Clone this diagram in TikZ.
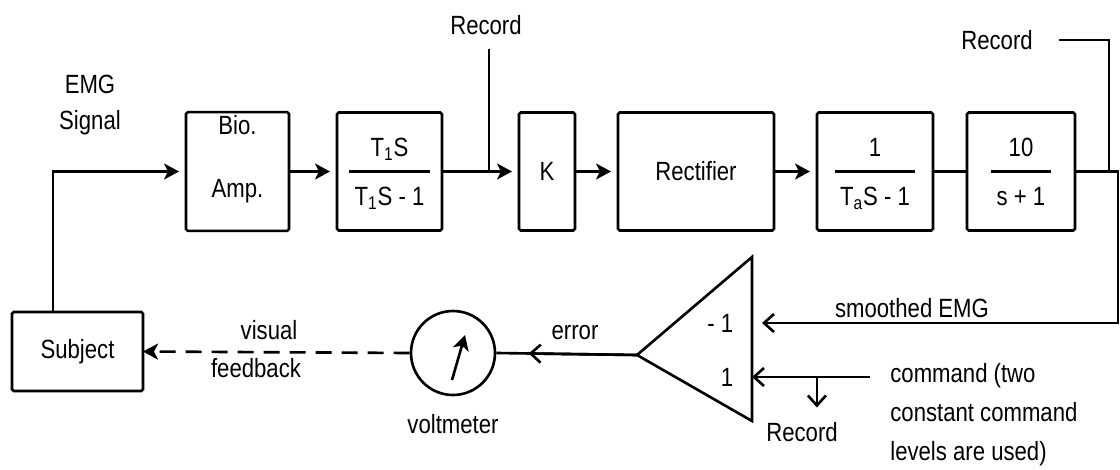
\documentclass[tikz,border=0pt]{standalone}
\usepackage{fontspec}
\setmainfont{Liberation Sans}[FakeStretch=0.84]
\usepackage{tikz}
\usetikzlibrary{positioning,arrows.meta,calc}
\renewcommand{\arraystretch}{1.5}
\setlength{\arrayrulewidth}{1.2pt}
\setlength{\tabcolsep}{3pt}

\begin{document}
\begin{tikzpicture}[
  font=\fontsize{15}{18}\selectfont,
  blk/.style={draw,line width=1.5pt,outer sep=0pt,rounded corners=1pt,align=center,minimum height=2.36cm,inner sep=2pt},
  lbl/.style={inner sep=2pt,align=center},
  wire/.style={line width=1.5pt},
  arr/.style={wire,-{Stealth[length=3mm,width=3.2mm,inset=0.8mm]}},
  flow/.style={arr,shorten >=0.14cm},
  barb/.style={wire,-{Straight Barb[length=2mm,width=3.6mm]}}]
\useasboundingbox (0,0) rectangle (22.4,-9.38);
\node[blk,minimum width=2.06cm,text depth=0.6cm] (bio) at (4.75,-3.43) {Bio.\\[0.62cm]Amp.};
\node[blk,minimum width=2.1cm,right=0.96cm of bio] (hp) {\begin{tabular}{c}T\textsubscript{1}S\\\hline T\textsubscript{1}S - 1\end{tabular}};
\node[blk,minimum width=1.12cm,right=1.54cm of hp] (gain) {K};
\node[blk,minimum width=3.12cm,right=0.86cm of gain] (rect) {Rectifier};
\node[blk,minimum width=2.32cm,right=0.86cm of rect] (lag) {\begin{tabular}{c}1\\\hline T\textsubscript{a}S - 1\end{tabular}};
\node[blk,minimum width=2.16cm,right=0.68cm of lag] (filt) {\begin{tabular}{c}10\\\hline s + 1\end{tabular}};
\node[blk,minimum width=2.62cm,minimum height=1.58cm] (subj) at (1.55,-7.03) {Subject};
\node[draw,circle,wire,minimum size=1.68cm] (vm) at (9.06,-7.06) {};
\node[lbl,below=0.28cm of vm] (vmlbl) {voltmeter};
\node[lbl,font=\fontsize{15}{21}\selectfont] (emg) at (1.8,-2.1) {EMG\\Signal};
\node[lbl] (rec1) at (9.72,-0.5) {Record};
\node[lbl] (rec2) at (19.94,-0.8) {Record};
\node[lbl] (rec3) at (16.04,-8.64) {Record};
\node[lbl] (errlbl) at (11.5,-6.66) {error};
\node[lbl] (vis) at (5.38,-6.6) {visual};
\node[lbl] (fbk) at (5.12,-7.36) {feedback};
\node[lbl] (smlbl) at (18.24,-6.16) {smoothed EMG};
\node[lbl,anchor=north west,align=left,font=\fontsize{15}{22}\selectfont] (cmd) at (17.73,-7.2) {command (two\\constant command\\levels are used)};
\draw[wire,line join=miter] (12.74,-7.10) coordinate (apex) -- (15.04,-5.14) -- (15.04,-8.42) -- cycle;
\coordinate (minus) at (15.04,-6.46);
\coordinate (plus) at (15.04,-7.54);
\coordinate (cmdin) at (17.4,-7.54);
\node[lbl,left=0.3cm of minus] (mlbl) {- 1};
\node[lbl,left=0.3cm of plus] (plbl) {1};
\coordinate (tap1) at ([xshift=0.94cm]hp.east);
\coordinate (tap2) at ([xshift=0.68cm]filt.east);
\coordinate (tap3) at ($(cmdin)!0.45!(plus)$);
\draw[flow] ([xshift=-0.49cm]subj.north) |- (bio.west);
\draw[flow] (bio) -- (hp); \draw[flow] (hp) -- (gain); \draw[flow] (gain) -- (rect); \draw[flow] (rect) -- (lag);
\draw[wire] (lag) -- (filt);
\draw[wire,shorten <=0.2cm] (rec1.south -| tap1) -- (tap1);
\draw[wire] ([xshift=0.44cm]rec2.east) -| (tap2);
\draw[barb,shorten >=0.2cm] (filt.east) -- ++(0.86,0) coordinate (corner) |- (minus);
\draw[barb] (cmdin) -- (plus);
\draw[barb,shorten >=0.22cm] (tap3) -- (tap3 |- rec3.north);
\draw[wire] (apex) -- (vm.east);
\draw[barb] (apex) -- ($(apex)!0.77!(vm.east)$);
\draw[arr] ([shift={(-0.02,-0.54)}]vm.center) -- ([shift={(0.24,0.36)}]vm.center);
\draw[arr,dash pattern=on 0.32cm off 0.2cm] (vm.west) -- (subj.east);
\end{tikzpicture}
\end{document}
